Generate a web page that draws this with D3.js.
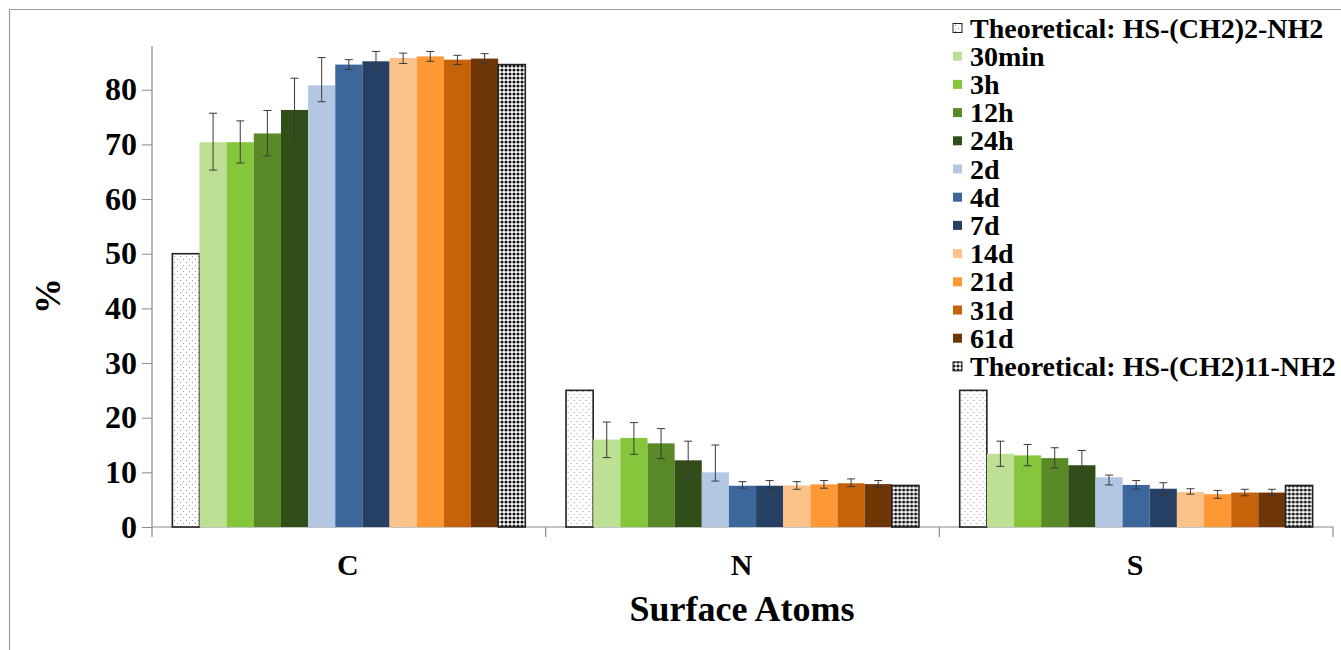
<!DOCTYPE html>
<html>
<head>
<meta charset="utf-8">
<script src="https://cdn.jsdelivr.net/npm/d3@7"></script>
<style>
  html, body { margin: 0; padding: 0; background: #fff; }
  svg { display: block; font-family: "Liberation Serif", "Times New Roman", serif; font-weight: bold; }
</style>
</head>
<body>
<svg id="chart" width="1341" height="650"></svg>
<script>
// ---- data ----
const categories = ["C", "N", "S"];
const seriesNames = ["Theoretical: HS-(CH2)2-NH2", "30min", "3h", "12h", "24h", "2d", "4d", "7d", "14d", "21d", "31d", "61d", "Theoretical: HS-(CH2)11-NH2"];
const seriesColors = ["pattern-dots", "#BDE095", "#86C63B", "#5A8A28", "#324E18", "#B3C7E3", "#3C679D", "#254062", "#FCC28A", "#FD9835", "#C5620A", "#6E3607", "pattern-check"];

const valuesC = [50, 70.4, 70.4, 72.0, 76.3, 80.8, 84.6, 85.2, 85.8, 86.1, 85.5, 85.7, 84.6];
const valuesN = [25, 16.0, 16.3, 15.3, 12.2, 10.0, 7.55, 7.55, 7.6, 7.8, 8.0, 7.85, 7.6];
const valuesS = [25, 13.4, 13.1, 12.6, 11.3, 9.1, 7.7, 7.0, 6.4, 6.0, 6.3, 6.3, 7.6];

const errUpC = [null, 5.3, 3.9, 4.2, 5.8, 5.1, 0.9, 1.8, 0.9, 0.9, 0.8, 0.9, null];
const errDownC = [null, 5.1, 3.8, 4.1, 5.6, 3.0, 0.9, 1.5, 1.0, 0.9, 0.9, 0.8, null];
const errUpN = [null, 3.2, 2.8, 2.7, 3.5, 5.0, 0.75, 0.95, 0.7, 0.7, 0.8, 0.65, null];
const errDownN = [null, 3.3, 3.0, 2.8, 3.5, 1.6, 0.45, 0.85, 0.7, 0.7, 0.6, 0.55, null];
const errUpS = [null, 2.3, 2.0, 1.9, 2.7, 0.4, 0.8, 1.1, 0.6, 0.7, 0.6, 0.6, null];
const errDownS = [null, 2.3, 1.9, 1.8, 2.5, 1.4, 0.8, 1.2, 0.4, 0.75, 0.6, 0.5, null];

const yTicks = [0, 10, 20, 30, 40, 50, 60, 70, 80];
const yMax = 88;
const yTitle = "%";
const xTitle = "Surface Atoms";

const valuesByCat = { C: valuesC, N: valuesN, S: valuesS };
const errUpByCat = { C: errUpC, N: errUpN, S: errUpS };
const errDownByCat = { C: errDownC, N: errDownN, S: errDownS };

// ---- layout ----
const svg = d3.select("#chart");
const plot = { left: 152, right: 1333, top: 46, bottom: 527 };

// frame
svg.append("line").attr("x1", 9).attr("x2", 1341).attr("y1", 9.5).attr("y2", 9.5).attr("stroke", "#9a9a9a").attr("stroke-width", 1.2);
svg.append("line").attr("x1", 9.5).attr("x2", 9.5).attr("y1", 9).attr("y2", 650).attr("stroke", "#9a9a9a").attr("stroke-width", 1.2);

// patterns
const defs = svg.append("defs");
const pd = defs.append("pattern").attr("id", "pattern-dots").attr("patternUnits", "userSpaceOnUse").attr("width", 6).attr("height", 6);
pd.append("rect").attr("width", 6).attr("height", 6).attr("fill", "#fff");
pd.append("rect").attr("x", 1).attr("y", 1).attr("width", 1).attr("height", 1).attr("fill", "#9a9a9a");
pd.append("rect").attr("x", 4).attr("y", 4).attr("width", 1).attr("height", 1).attr("fill", "#9a9a9a");

const pc = defs.append("pattern").attr("id", "pattern-check").attr("patternUnits", "userSpaceOnUse").attr("width", 4).attr("height", 4);
pc.append("rect").attr("width", 4).attr("height", 4).attr("fill", "#fff");
pc.append("circle").attr("cx", 2).attr("cy", 2).attr("r", 1.55).attr("fill", "#111");

const fillFor = c => c.startsWith("pattern") ? `url(#${c})` : c;

// scales
const x0 = d3.scaleBand().domain(categories).range([plot.left, plot.right]).paddingInner(0).paddingOuter(0);
const x1 = d3.scaleBand().domain(d3.range(seriesNames.length)).range([0, x0.bandwidth()]).paddingInner(0).paddingOuter(0.75);
const y = d3.scaleLinear().domain([0, yMax]).range([plot.bottom, plot.top]);

// y axis
const yAxis = d3.axisLeft(y).tickValues(yTicks).tickSize(10).tickPadding(5).tickFormat(d3.format("d"));
const gy = svg.append("g").attr("transform", `translate(${plot.left},0)`).call(yAxis);
gy.attr("font-family", null).attr("font-size", null);
gy.select(".domain").remove();
gy.selectAll(".tick line").attr("stroke", "#8a8a8a");
gy.selectAll(".tick text").attr("font-size", 32).attr("fill", "#000");
svg.append("line").attr("x1", plot.left).attr("x2", plot.left).attr("y1", plot.top).attr("y2", plot.bottom + 10).attr("stroke", "#8a8a8a").attr("stroke-width", 1.2);

// x axis
svg.append("line").attr("x1", plot.left).attr("x2", plot.right).attr("y1", plot.bottom).attr("y2", plot.bottom).attr("stroke", "#8a8a8a").attr("stroke-width", 1.2);
categories.forEach((c, i) => {
  const xb = x0(c) + x0.bandwidth();
  svg.append("line").attr("x1", xb).attr("x2", xb).attr("y1", plot.bottom).attr("y2", plot.bottom + 10).attr("stroke", "#8a8a8a").attr("stroke-width", 1.2);
  svg.append("text").attr("x", x0(c) + x0.bandwidth() / 2 - 1).attr("y", 575).attr("text-anchor", "middle").attr("font-size", 30).text(c);
});

// bars
categories.forEach(c => {
  const g = svg.append("g").attr("transform", `translate(${x0(c)},0)`);
  const vals = valuesByCat[c];
  g.selectAll("rect.bar").data(vals).join("rect")
    .attr("class", "bar")
    .attr("x", (d, i) => x1(i))
    .attr("width", x1.bandwidth())
    .attr("y", d => y(d))
    .attr("height", d => y(0) - y(d))
    .attr("fill", (d, i) => fillFor(seriesColors[i]))
    .attr("stroke", (d, i) => seriesColors[i].startsWith("pattern") ? "#222" : "none")
    .attr("stroke-width", 1.6);
  // error bars
  const up = errUpByCat[c], dn = errDownByCat[c];
  vals.forEach((v, i) => {
    if (up[i] == null) return;
    const cx = x1(i) + x1.bandwidth() / 2;
    const yt = y(v + up[i]), yb = y(v - dn[i]);
    const eg = g.append("g").attr("stroke", "#3a3a3a").attr("stroke-width", 1);
    eg.append("line").attr("x1", cx).attr("x2", cx).attr("y1", yt).attr("y2", yb);
    eg.append("line").attr("x1", cx - 4).attr("x2", cx + 4).attr("y1", yt).attr("y2", yt);
    eg.append("line").attr("x1", cx - 4).attr("x2", cx + 4).attr("y1", yb).attr("y2", yb);
  });
});

// axis titles
svg.append("text").attr("transform", "translate(60,296) rotate(-90)").attr("text-anchor", "middle").attr("font-size", 36).text(yTitle);
svg.append("text").attr("x", 742).attr("y", 621).attr("text-anchor", "middle").attr("font-size", 36).text(xTitle);

// legend
const legend = svg.append("g");
seriesNames.forEach((name, i) => {
  const cy = 28 + i * 28.2;
  const col = seriesColors[i];
  legend.append("rect").attr("x", 953).attr("y", cy - 4.5).attr("width", 9).attr("height", 9)
    .attr("fill", fillFor(col))
    .attr("stroke", col.startsWith("pattern") ? "#222" : "none").attr("stroke-width", 1);
  legend.append("text").attr("x", 970).attr("y", cy + 9.5).attr("font-size", 28).text(name);
});
</script>
</body>
</html>
